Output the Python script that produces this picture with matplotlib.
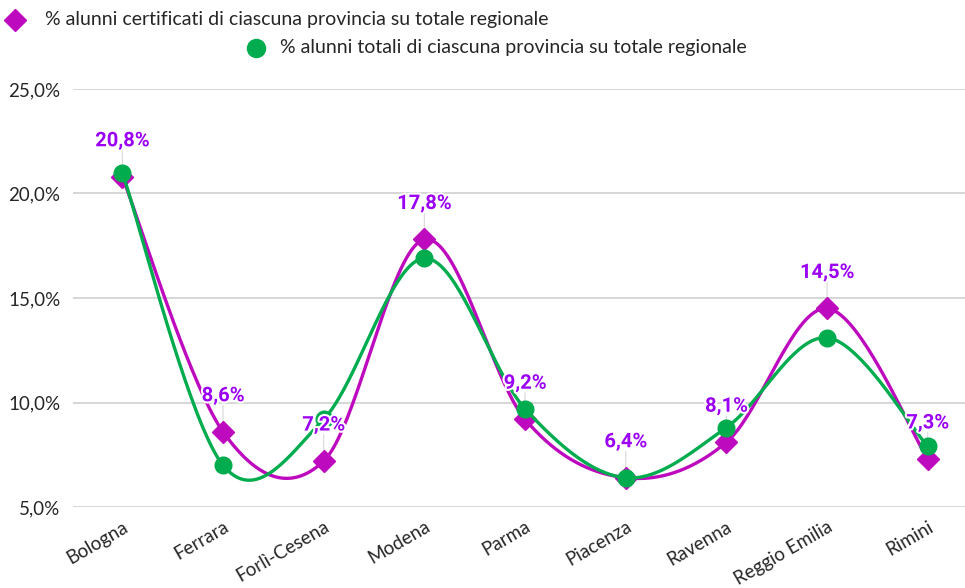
import matplotlib

matplotlib.use("Agg")
import matplotlib.pyplot as plt
import matplotlib.patheffects as pe
import numpy as np

province = ["Bologna", "Ferrara", "Forlì-Cesena", "Modena", "Parma",
            "Piacenza", "Ravenna", "Reggio Emilia", "Rimini"]
certificati = [20.8, 8.6, 7.2, 17.8, 9.2, 6.4, 8.1, 14.5, 7.3]
totali = [21.0, 7.0, 9.2, 16.9, 9.7, 6.4, 8.8, 13.1, 7.9]
y_ticks = [5, 10, 15, 20, 25]

label_cert = "% alunni certificati di ciascuna provincia su totale regionale"
label_tot = "% alunni totali di ciascuna provincia su totale regionale"

MAGENTA = "#BE0ABE"
GREEN = "#00AC4E"
PURPLE = "#9B00F5"


def fmt(v):
    return f"{v:.1f}%".replace(".", ",")


def smooth(x, y, n=40):
    # Catmull-Rom via cubic Bezier segments
    x = np.asarray(x, float)
    y = np.asarray(y, float)
    px = np.concatenate([[x[0]], x, [x[-1]]])
    py = np.concatenate([[y[0]], y, [y[-1]]])
    xs, ys = [], []
    t = np.linspace(0, 1, n)
    for i in range(1, len(px) - 2):
        p0 = np.array([px[i], py[i]])
        p3 = np.array([px[i + 1], py[i + 1]])
        c1 = p0 + (p3 - np.array([px[i - 1], py[i - 1]])) / 6
        c2 = p3 - (np.array([px[i + 2], py[i + 2]]) - p0) / 6
        pts = ((1 - t) ** 3)[:, None] * p0 + (3 * (1 - t) ** 2 * t)[:, None] * c1 \
            + (3 * (1 - t) * t ** 2)[:, None] * c2 + (t ** 3)[:, None] * p3
        xs.append(pts[:, 0])
        ys.append(pts[:, 1])
    return np.concatenate(xs), np.concatenate(ys)


plt.rcParams["font.family"] = ["Lato", "DejaVu Sans"]

fig = plt.figure(figsize=(9.65, 5.88), dpi=100)
ax = fig.add_axes([73 / 965, 1 - 507 / 588, 1 - 73 / 965, (507 - 89) / 588])

x = np.arange(len(province))
sx, sy = smooth(x, certificati)
ax.plot(sx, sy, color=MAGENTA, lw=2.4, zorder=3, solid_capstyle="round")
ax.plot(x, certificati, ls="none", marker="D", ms=11, color=MAGENTA, zorder=4)
gx, gy = smooth(x, totali)
ax.plot(gx, gy, color=GREEN, lw=2.4, zorder=5, solid_capstyle="round")
ax.plot(x, totali, ls="none", marker="o", ms=12, color=GREEN, zorder=6)

for xi, v in zip(x, certificati):
    ax.annotate("", xy=(xi, v), xytext=(0, 19), textcoords="offset points",
                arrowprops=dict(arrowstyle="-", color="#d8d8d8", lw=0.8,
                                shrinkA=0, shrinkB=5), zorder=2)
    ax.annotate(fmt(v), xy=(xi, v), xytext=(0, 19), textcoords="offset points",
                ha="center", va="bottom", color=PURPLE, fontsize=14.5,
                fontweight="bold", family=["Roboto", "DejaVu Sans"], zorder=7,
                path_effects=[pe.withStroke(linewidth=3, foreground="white")])

ax.set_xlim(-0.49, 8.37)
ax.set_ylim(5, 25)
ax.set_yticks(y_ticks)
ax.set_yticklabels([fmt(v) for v in y_ticks], fontsize=13.5, color="#262626")
ax.set_xticks(x)
ax.set_xticklabels(province, rotation=30, ha="right", rotation_mode="anchor",
                   fontsize=13.5, color="#262626")
ax.tick_params(length=0, axis="y", pad=9)
ax.tick_params(length=0, axis="x", pad=8)
ax.grid(axis="y", color="#d0d0d0", lw=1.2)
ax.set_axisbelow(True)
for s in ax.spines.values():
    s.set_visible(False)

fig.lines.append(plt.Line2D([15 / 965], [1 - 20 / 588], transform=fig.transFigure,
                            marker="D", ms=11, color=MAGENTA, ls="none"))
fig.text(45 / 965, 1 - 20 / 588, label_cert, fontsize=14, va="center",
         color="#262626")
fig.lines.append(plt.Line2D([256 / 965], [1 - 48 / 588], transform=fig.transFigure,
                            marker="o", ms=13, color=GREEN, ls="none"))
fig.text(280 / 965, 1 - 48 / 588, label_tot, fontsize=14, va="center",
         color="#262626")

fig.savefig("out.png", dpi=100)
